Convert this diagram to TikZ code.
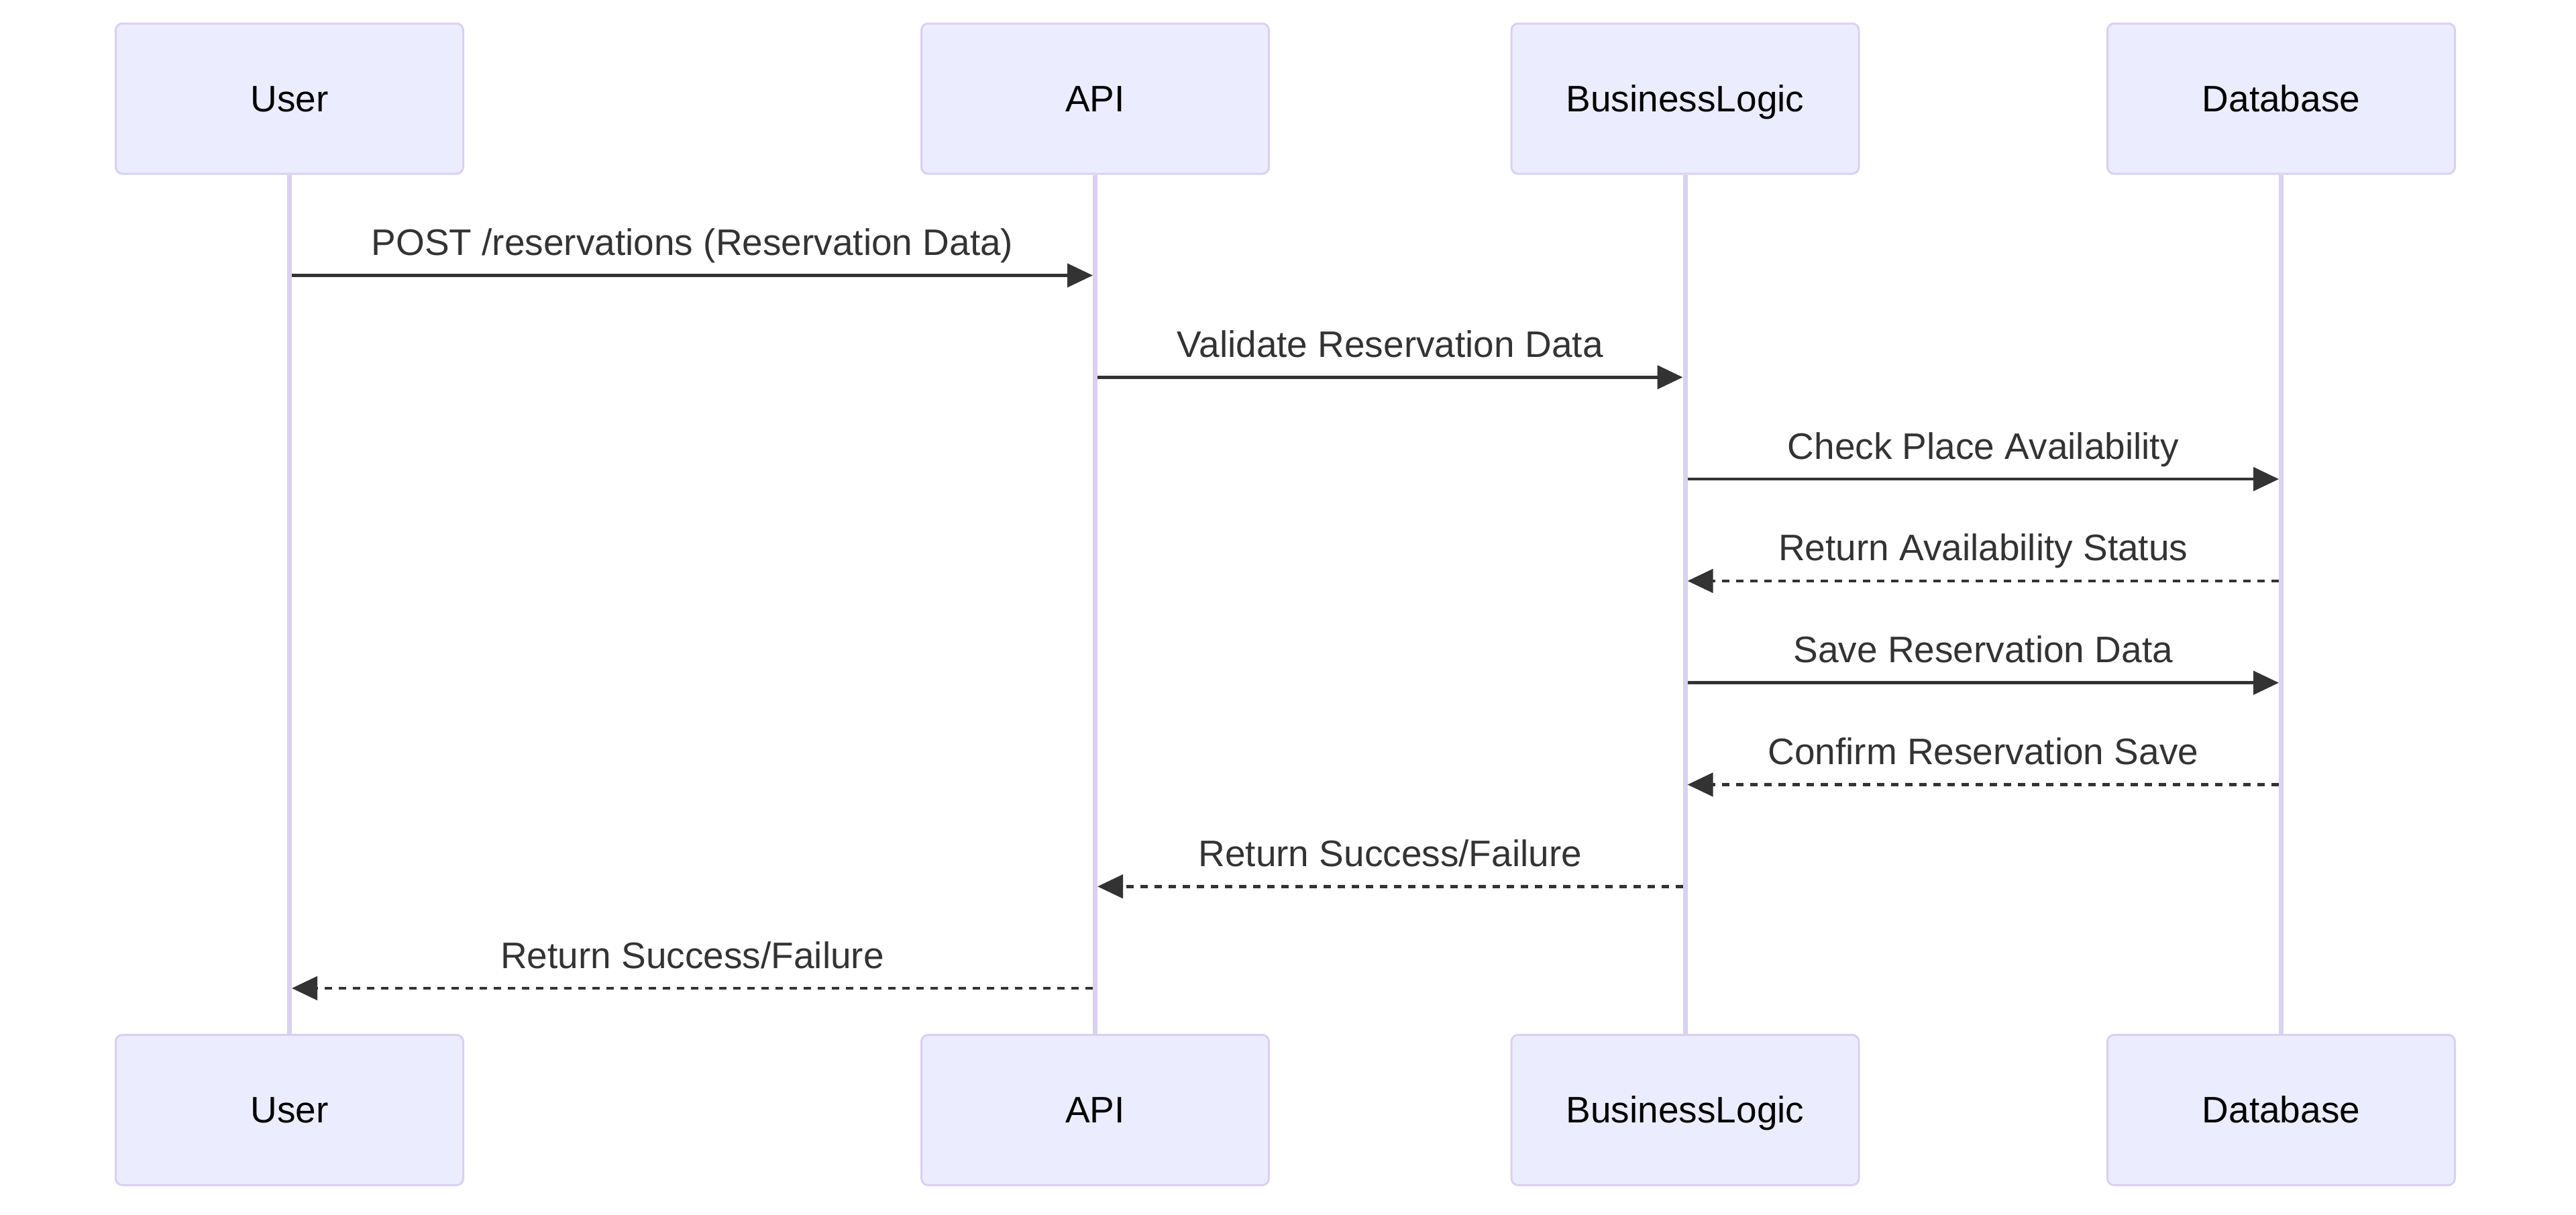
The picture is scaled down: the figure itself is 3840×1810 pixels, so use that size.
\documentclass[tikz,border=0pt]{standalone}
\usepackage{fontspec}
\setmainfont{Liberation Sans}
\usetikzlibrary{arrows.meta,calc}
\definecolor{actfill}{HTML}{ECECFF}
\definecolor{actline}{HTML}{DAD0F2}
\definecolor{msgc}{HTML}{333333}
\begin{document}
\begin{tikzpicture}[x=1pt,y=-1pt,
  actor/.style={draw=actline, fill=actfill, line width=3pt, rounded corners=10pt,
    minimum width=518pt, minimum height=224pt, inner sep=0pt,
    text height=40pt, text depth=2pt,
    font=\fontsize{55}{66}\selectfont, text=black},
  life/.style={draw=actline, line width=7pt},
  msgline/.style={draw=msgc, line width=4.5pt, -{Triangle[length=38pt,width=35pt]}},
  reply/.style={msgline, dash pattern=on 11pt off 10pt},
  lbl/.style={font=\fontsize{55}{66}\selectfont, text=msgc, anchor=base, inner sep=0pt, yshift=30pt}]
\useasboundingbox (0,0) rectangle (3840,1810);
% actors top
\node[actor] (u1) at (431.5,147) {User};
\node[actor] (a1) at (1632.5,147) {API};
\node[actor] (b1) at (2512,147) {BusinessLogic};
\node[actor] (d1) at (3400.5,147) {Database};
% actors bottom
\node[actor] (u2) at (431.5,1654.5) {User};
\node[actor] (a2) at (1632.5,1654.5) {API};
\node[actor] (b2) at (2512,1654.5) {BusinessLogic};
\node[actor] (d2) at (3400.5,1654.5) {Database};
% lifelines
\draw[life] (u1.south) -- (u2.north);
\draw[life] (a1.south) -- (a2.north);
\draw[life] (b1.south) -- (b2.north);
\draw[life] (d1.south) -- (d2.north);
% rows
\coordinate (r1) at (0,410.5);
\coordinate (r2) at (0,562.3);
\coordinate (r3) at (0,714.1);
\coordinate (r4) at (0,865.9);
\coordinate (r5) at (0,1017.7);
\coordinate (r6) at (0,1169.5);
\coordinate (r7) at (0,1321.3);
\coordinate (r8) at (0,1473);
% messages
\draw[msgline] ($(u1.south |- r1)+(3.5,0)$) -- ($(a1.south |- r1)+(-3.5,0)$)
  node[lbl, midway] {POST /reservations (Reservation Data)};
\draw[msgline] ($(a1.south |- r2)+(3.5,0)$) -- ($(b1.south |- r2)+(-3.5,0)$)
  node[lbl, midway] {Validate Reservation Data};
\draw[msgline] ($(b1.south |- r3)+(3.5,0)$) -- ($(d1.south |- r3)+(-3.5,0)$)
  node[lbl, midway] {Check Place Availability};
\draw[reply] ($(d1.south |- r4)+(-3.5,0)$) -- ($(b1.south |- r4)+(3.5,0)$)
  node[lbl, midway] {Return Availability Status};
\draw[msgline] ($(b1.south |- r5)+(3.5,0)$) -- ($(d1.south |- r5)+(-3.5,0)$)
  node[lbl, midway] {Save Reservation Data};
\draw[reply] ($(d1.south |- r6)+(-3.5,0)$) -- ($(b1.south |- r6)+(3.5,0)$)
  node[lbl, midway] {Confirm Reservation Save};
\draw[reply] ($(b1.south |- r7)+(-3.5,0)$) -- ($(a1.south |- r7)+(3.5,0)$)
  node[lbl, midway] {Return Success/Failure};
\draw[reply] ($(a1.south |- r8)+(-3.5,0)$) -- ($(u1.south |- r8)+(3.5,0)$)
  node[lbl, midway] {Return Success/Failure};
\end{tikzpicture}
\end{document}
